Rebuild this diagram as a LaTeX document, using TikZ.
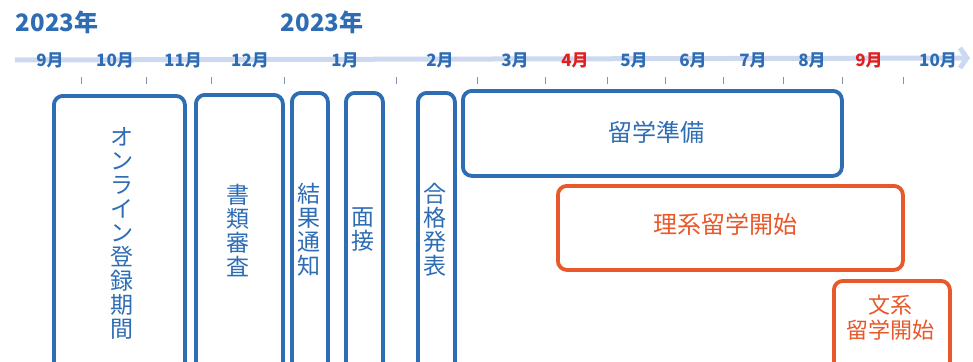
\documentclass[tikz,border=0pt]{standalone}
\usepackage{fontspec}
\setmainfont{Noto Sans CJK JP}
\usetikzlibrary{arrows.meta}

\definecolor{schblue}{HTML}{2E6DB4}
\definecolor{schorange}{HTML}{E8582A}
\definecolor{schred}{HTML}{E0201E}
\definecolor{axisblue}{HTML}{CDD8F1}
\definecolor{tickgray}{HTML}{7F93BA}

\tikzset{
	period/.style={draw=schblue, line width=3.8pt, rounded corners=9pt, anchor=north west, inner sep=0pt},
	start/.style={draw=schorange, line width=3.8pt, rounded corners=9pt, anchor=north west, inner sep=0pt},
	month/.style={text=schblue, font=\bfseries\fontsize{17}{17}\selectfont, inner sep=0pt},
	year/.style={text=schblue, font=\bfseries\fontsize{24}{24}\selectfont, inner sep=0pt},
	vtext/.style={text=schblue, align=center, font=\fontsize{23}{24}\selectfont, inner sep=0pt},
	htext/.style={font=\fontsize{24}{26}\selectfont, align=center, inner sep=0pt},
	tick/.style={draw=tickgray, line width=0.8pt},
	axis/.style={draw=axisblue, line width=5pt, -{Straight Barb[length=7pt,width=20pt]}}
}

\begin{document}
\begin{tikzpicture}[x=1pt,y=-1pt]
	\clip (0,0) rectangle (973,361);
	
	%%years
	\node[year] (y1) at (57,22) {2023年};
	\node[year] (y2) at (322,22) {2023年};
	
	%%axis
	\coordinate (axstart) at (15,60);
	\coordinate (axend) at (970,58);
	\draw[axis] (axstart) -- (axend);
	
	%%ticks
	\foreach \x in {81,146,211,284,396,477,545,607,665,723,783,842,903}
		\draw[tick] (\x,77) -- (\x,84);
	
	%%months
	\foreach \x/\m in {50/9,115/10,183/11,250/12,345/1,440/2,515/3,634/5,693/6,753/7,812/8,938/10}
		\node[month] (m\x) at (\x,60) {{\m}月};
	\node[month, text=schred] (apr) at (575,60) {4月};
	\node[month, text=schred] (sep) at (869,60) {9月};
	
	%%boxes
	\node[period, minimum width=131, minimum height=300] (reg) at (52,94) {};
	\node[period, minimum width=87, minimum height=300] (doc) at (194,93) {};
	\node[period, minimum width=36, minimum height=300] (res) at (290,91) {};
	\node[period, minimum width=37, minimum height=300] (itv) at (344,91) {};
	\node[period, minimum width=37, minimum height=300] (pass) at (416,91) {};
	\node[period, minimum width=379, minimum height=85] (prep) at (461,89) {};
	\node[start, minimum width=345, minimum height=84] (sci) at (556,184) {};
	\node[start, minimum width=116, minimum height=120] (hum) at (832,279) {};
	
	%%labels
	\node[vtext] (regtxt) at (122,233) {オ\\ン\\ラ\\イ\\ン\\登\\録\\期\\間};
	\node[vtext] (doctxt) at (238,230) {書\\類\\審\\査};
	\node[vtext] (restxt) at (309,230) {結\\果\\通\\知};
	\node[vtext] (itvtxt) at (363,230) {面\\接};
	\node[vtext] (passtxt) at (435,230) {合\\格\\発\\表};
	\node[htext, text=schblue] (preptxt) at (656,132) {留学準備};
	\node[htext, text=schorange] (scitxt) at (725,224) {理系留学開始};
	\node[htext, text=schorange, font=\fontsize{22}{25}\selectfont] (humtxt) at (890,318) {文系\\留学開始};
\end{tikzpicture}
\end{document}
